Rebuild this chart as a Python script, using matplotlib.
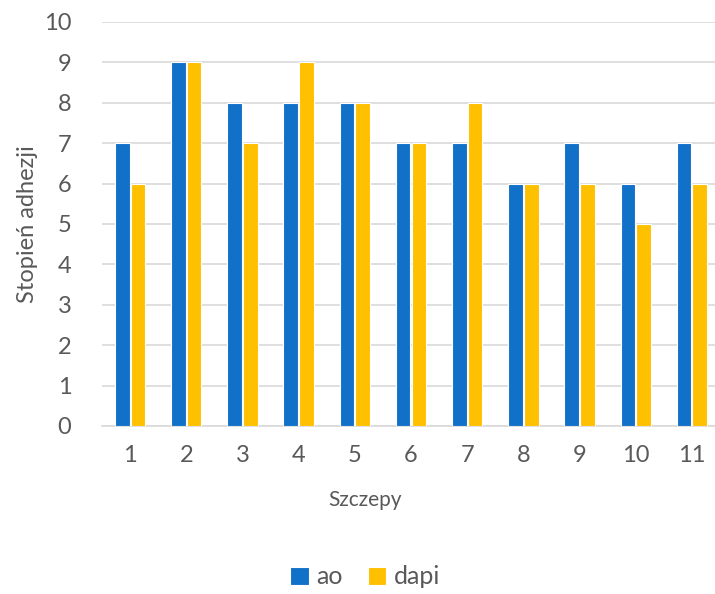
import numpy as np
import matplotlib
matplotlib.use("Agg")
import matplotlib.pyplot as plt

strains = ["1", "2", "3", "4", "5", "6", "7", "8", "9", "10", "11"]
ao = [7, 9, 8, 8, 8, 7, 7, 6, 7, 6, 7]
dapi = [6, 9, 7, 9, 8, 7, 8, 6, 6, 5, 6]

BLUE = "#1170c8"
YELLOW = "#ffc000"
TEXT = "#595959"

plt.rcParams["font.family"] = ["Lato", "DejaVu Sans"]

fig = plt.figure(figsize=(7.15, 5.94), dpi=100)
ax = fig.add_axes([102 / 715, 168 / 594, 618 / 715, 404 / 594])

x = np.arange(len(strains))
w = 0.26
ax.bar(x - 0.14, ao, w, color=BLUE, edgecolor="white", linewidth=0.8, label="ao", zorder=3)
ax.bar(x + 0.14, dapi, w, color=YELLOW, edgecolor="white", linewidth=0.8, label="dapi", zorder=3)

ax.set_xlim(-0.5, len(strains) - 0.5)
ax.set_ylim(0, 10)
ax.set_yticks(range(0, 11))
ax.set_xticks(x)
ax.set_xticklabels(strains)
ax.yaxis.grid(True, color="#d9d9d9", linewidth=1.2, zorder=0)
ax.set_axisbelow(True)
for s in ["top", "right", "left"]:
    ax.spines[s].set_visible(False)
ax.spines["bottom"].set_color("#d9d9d9")
ax.spines["bottom"].set_linewidth(1.2)
ax.tick_params(axis="both", length=0, labelsize=17, colors=TEXT)
ax.tick_params(axis="x", pad=14)
ax.tick_params(axis="y", pad=22)

ax.set_ylabel("Stopień adhezji", fontsize=17, color=TEXT, labelpad=4)
fig.text(365 / 715, 1 - 500 / 594, "Szczepy", fontsize=15, color=TEXT,
         ha="center", va="center")

fig.legend(loc="center", bbox_to_anchor=(365 / 715, 1 - 577 / 594), ncol=2,
           frameon=False, fontsize=18, labelcolor=TEXT, handlelength=0.75,
           handleheight=0.75, handletextpad=0.3, columnspacing=1.0)

fig.savefig("out.png", dpi=100)
